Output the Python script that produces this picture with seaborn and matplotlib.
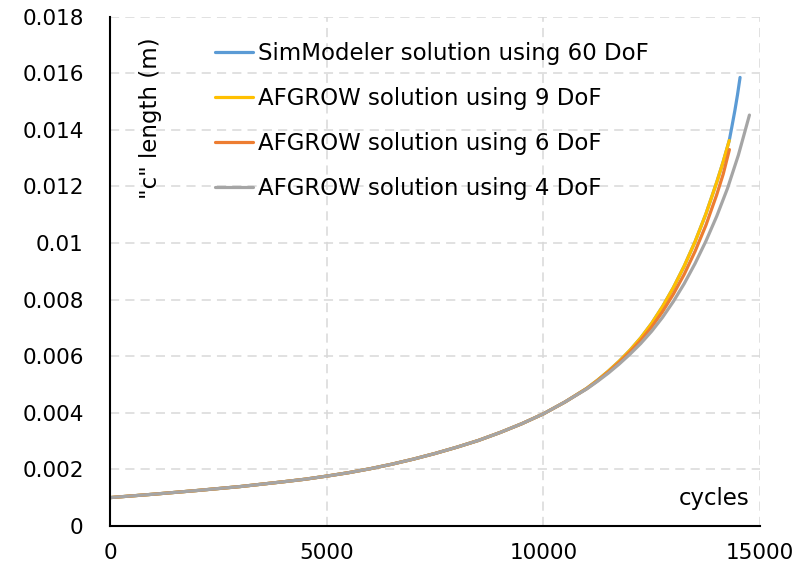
import matplotlib
matplotlib.use("Agg")
import matplotlib.pyplot as plt
import seaborn as sns
import pandas as pd

# shared early portion (all four solutions coincide)
cycles_shared = [0, 1000, 2000, 3000, 4000, 4500, 5000, 5500, 6000, 6500, 7000, 7500,
                 8000, 8500, 9000, 9500, 10000, 10500]
c_shared = [0.00100, 0.00112, 0.00125, 0.00139, 0.00156, 0.00165, 0.00176, 0.00188,
            0.00202, 0.00218, 0.00236, 0.00256, 0.00278, 0.00302, 0.00330, 0.00361,
            0.00396, 0.00438]

# diverging tails
cycles_9dof = [11000, 11250, 11500, 11750, 12000, 12250, 12500, 12750, 13000, 13250,
               13500, 13750, 14000, 14150, 14290]
c_9dof = [0.00486, 0.00515, 0.00547, 0.00582, 0.00621, 0.00665, 0.00716, 0.00775,
          0.00842, 0.00918, 0.01004, 0.01102, 0.01214, 0.01287, 0.01362]

cycles_60dof = cycles_9dof + [14350, 14420, 14480, 14540]
c_60dof = c_9dof + [0.01410, 0.01468, 0.01523, 0.01585]

cycles_6dof = [11000, 11250, 11500, 11750, 12000, 12250, 12500, 12750, 13000, 13250,
               13500, 13750, 14000, 14150, 14294]
c_6dof = [0.00485, 0.00513, 0.00544, 0.00578, 0.00615, 0.00656, 0.00703, 0.00757,
          0.00819, 0.00889, 0.00970, 0.01062, 0.01170, 0.01243, 0.01330]

cycles_4dof = [11000, 11250, 11500, 11750, 12000, 12250, 12500, 12750, 13000, 13250,
               13500, 13750, 14000, 14250, 14500, 14650, 14756]
c_4dof = [0.00484, 0.00511, 0.00540, 0.00572, 0.00607, 0.00645, 0.00688, 0.00737,
          0.00793, 0.00856, 0.00927, 0.01006, 0.01094, 0.01193, 0.01310, 0.01393, 0.01452]

labels = ["SimModeler solution using 60 DoF", "AFGROW solution using 9 DoF",
          "AFGROW solution using 6 DoF", "AFGROW solution using 4 DoF"]
colors = ["#5B9BD5", "#FFC000", "#ED7D31", "#A5A5A5"]

series = [(cycles_60dof, c_60dof), (cycles_9dof, c_9dof), (cycles_6dof, c_6dof), (cycles_4dof, c_4dof)]

sns.set_style("white")
plt.rcParams["font.family"] = ["DejaVu Sans"]
plt.rcParams["text.color"] = "black"

fig = plt.figure(figsize=(7.97, 5.76), dpi=100)
W, H = 797, 576
ax = fig.add_axes([110.1 / W, 1 - 525.9 / H, (760 - 110.1) / W, (525.9 - 16.6) / H])

for (xs, ys), lab, col in zip(series, labels, colors):
    df = pd.DataFrame({"cycles": cycles_shared + xs, "c": c_shared + ys})
    sns.lineplot(data=df, x="cycles", y="c", ax=ax, color=col, lw=2.3, label=lab,
                 sort=False, estimator=None)

ax.set_xlim(0, 15000)
ax.set_ylim(0, 0.018)
ax.set_xticks([0, 5000, 10000, 15000])
ax.set_yticks([0, 0.002, 0.004, 0.006, 0.008, 0.010, 0.012, 0.014, 0.016, 0.018])
ax.set_yticklabels(["0", "0.002", "0.004", "0.006", "0.008", "0.01", "0.012", "0.014", "0.016", "0.018"])
ax.set_xticklabels(["0", "5000", "10000", "15000"])
ax.tick_params(axis="both", length=0, labelsize=15.5, colors="black")
ax.tick_params(axis="y", pad=19)
ax.tick_params(axis="x", pad=12)
ax.set_xlabel("")
ax.set_ylabel("")

ax.grid(True, color="#D9D9D9", linestyle=(0, (6, 4)), linewidth=1.1)
ax.set_axisbelow(True)
for s in ["top", "right"]:
    ax.spines[s].set_visible(False)
for s in ["left", "bottom"]:
    ax.spines[s].set_color("black")
    ax.spines[s].set_linewidth(1.5)
    ax.spines[s].set_zorder(5)

fig.text(150 / W, 1 - 118 / H, '"c" length (m)', rotation=90, ha="center", va="center",
         fontsize=16.5, color="black")
fig.text(750 / W, 1 - 498 / H, "cycles", ha="right", va="center", fontsize=16.5, color="black")

leg = ax.legend(loc="upper left", bbox_to_anchor=(215 / W, 1 - 42 / H), bbox_transform=fig.transFigure,
                frameon=False, fontsize=16.5, handlelength=1.66, handletextpad=0.2,
                labelspacing=0.96, borderpad=0, borderaxespad=0)
for line in leg.get_lines():
    line.set_linewidth(2.3)
for t in leg.get_texts():
    t.set_color("black")

fig.savefig("out.png", dpi=100)
